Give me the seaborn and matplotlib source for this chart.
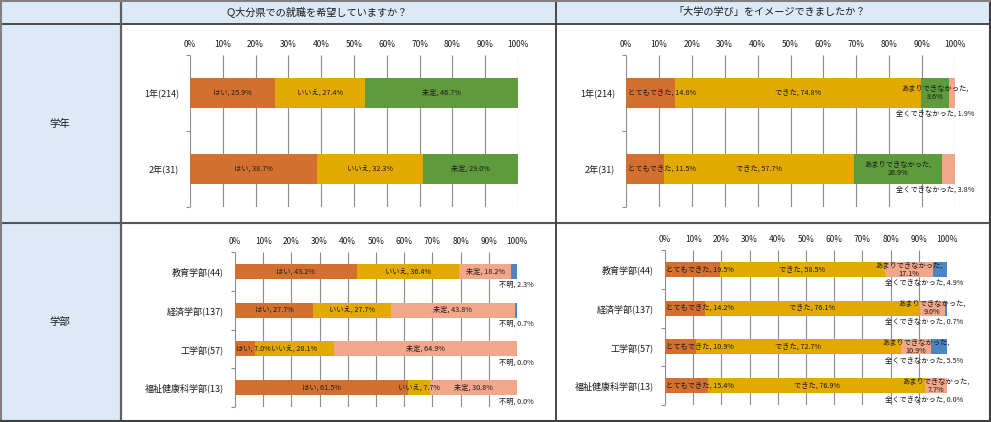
import numpy as np
import pandas as pd
import matplotlib
matplotlib.use('Agg')
import matplotlib.pyplot as plt
import seaborn as sns
from matplotlib.lines import Line2D
from matplotlib.patches import Rectangle

sns.set_theme(style='white')
plt.rcParams['font.family'] = ['Noto Sans CJK JP', 'DejaVu Sans']

# ---------------- data ----------------
header_left = 'Ｑ大分県での就職を希望していますか？'
header_right = '「大学の学び」をイメージできましたか？'
row_labels = ['学年', '学部']

grade_cats = ['1年(214)', '2年(31)']
faculty_cats = ['教育学部(44)', '経済学部(137)', '工学部(57)', '福祉健康科学部(13)']

q1_series = ['はい', 'いいえ', '未定', '不明']
q2_series = ['とてもできた', 'できた', 'あまりできなかった', '全くできなかった']

q1_grade_yes = [25.9, 38.7]
q1_grade_no = [27.4, 32.3]
q1_grade_undecided = [46.7, 29.0]

q1_fac_yes = [43.2, 27.7, 7.0, 61.5]
q1_fac_no = [36.4, 27.7, 28.1, 7.7]
q1_fac_undecided = [18.2, 43.8, 64.9, 30.8]
q1_fac_unknown = [2.3, 0.7, 0.0, 0.0]

q2_grade_very = [14.8, 11.5]
q2_grade_yes = [74.8, 57.7]
q2_grade_little = [8.6, 26.9]
q2_grade_none = [1.9, 3.8]

q2_fac_very = [19.5, 14.2, 10.9, 15.4]
q2_fac_yes = [58.5, 76.1, 72.7, 76.9]
q2_fac_little = [17.1, 9.0, 10.9, 7.7]
q2_fac_none = [4.9, 0.7, 5.5, 0.0]

x_ticks = [0, 10, 20, 30, 40, 50, 60, 70, 80, 90, 100]

# ---------------- style ----------------
ORANGE = '#D4702F'
GOLD = '#E2AA00'
GREEN = '#5F9A3C'
SALMON = '#F2A68A'
BLUE = '#4A86C5'
CELL_BLUE = '#DCE9F7'
GRID = '#8C8C8C'
BAR_W = 0.39
LABEL_FS = 5.2

W, H = 991, 422
fig = plt.figure(figsize=(W / 100, H / 100), dpi=100)
fig.patch.set_facecolor('white')


def fx(x):
    return x / W


def fy(y):
    return 1 - y / H


# table frame
fig.add_artist(Rectangle((0, fy(24)), 1, 24 / H, transform=fig.transFigure,
                         facecolor=CELL_BLUE, edgecolor='none', zorder=0))
fig.add_artist(Rectangle((0, 0), fx(121), 1, transform=fig.transFigure,
                         facecolor=CELL_BLUE, edgecolor='none', zorder=0))
for (x0, y0, x1, y1, c, lw) in [
    (0, 24, W, 24, '#3A3A3A', 1.3),
    (0, 223, W, 223, '#555555', 1.5),
    (121, 0, 121, H, '#606060', 1.6),
    (556, 0, 556, H, '#3A3A3A', 1.3),
    (1, 0, 1, H, '#808080', 1.5),
    (W - 1.5, 0, W - 1.5, H, '#404040', 1.5),
    (0, 1, W, 1, '#808080', 1.5),
    (0, H - 1.5, W, H - 1.5, '#404040', 1.5),
]:
    fig.add_artist(Line2D([fx(x0), fx(x1)], [fy(y0), fy(y1)],
                          transform=fig.transFigure, color=c, lw=lw, zorder=5))

fig.text(fx(317), fy(12), header_left, ha='center', va='center', fontsize=7.3, color='#1a1a1a')
fig.text(fx(770), fy(12), header_right, ha='center', va='center', fontsize=7.3, color='#1a1a1a')
fig.text(fx(60), fy(124), row_labels[0], ha='center', va='center', fontsize=7.5, color='#1a1a1a')
fig.text(fx(60), fy(322), row_labels[1], ha='center', va='center', fontsize=7.5, color='#1a1a1a')

clamp_texts = []


def draw_panel(box, cats, names, values, colors, below_last, twoline_idx):
    left, top, right, bottom = box
    ax = fig.add_axes([fx(left), fy(bottom), (right - left) / W, (bottom - top) / H])
    ax.set_facecolor('none')
    values = np.array(values, dtype=float)
    cum = np.cumsum(values, axis=0)
    n = len(cats)
    # vertical gridlines at the tick positions (behind bars)
    ax.vlines(x_ticks, -0.5, n - 0.5, color=GRID, lw=0.8, zorder=0.5)
    for k in reversed(range(len(names))):
        df = pd.DataFrame({'cat': cats, 'val': cum[k]})
        sns.barplot(data=df, x='val', y='cat', orient='h', color=colors[k],
                    saturation=1, width=BAR_W, ax=ax, linewidth=0, errorbar=None,
                    zorder=2)
    ax.set_xlim(0, 100)
    ax.set_ylim(n - 0.5, -0.5)
    ax.set_xlabel('')
    ax.set_ylabel('')
    ax.xaxis.tick_top()
    ax.set_xticks(x_ticks)
    ax.set_xticklabels([f'{t}%' for t in x_ticks], fontsize=6, color='#1a1a1a')
    ax.tick_params(axis='x', which='both', length=0, pad=4)
    ax.set_yticks(range(n))
    ax.set_yticklabels(cats, fontsize=6.5, color='#1a1a1a')
    ax.set_yticks(np.arange(-0.5, n, 1), minor=True)
    ax.tick_params(axis='y', which='major', length=0, pad=8)
    ax.tick_params(axis='y', which='minor', length=3, width=0.8, color=GRID, left=True)
    ax.grid(False)
    for s in ax.spines.values():
        s.set_visible(False)

    last = len(names) - 1
    for k, name in enumerate(names):
        for i in range(n):
            v = values[k][i]
            start = cum[k][i] - v
            mid = start + v / 2
            if below_last and k == last:
                ax.annotate(f'{name}, {v:.1f}%', xy=(105.8, i + BAR_W / 2),
                            xytext=(0, -1.5), textcoords='offset points',
                            ha='right', va='top', fontsize=LABEL_FS, color='#1a1a1a',
                            annotation_clip=False, zorder=4)
            elif twoline_idx is not None and k == twoline_idx:
                ax.text(mid, i, f'{name},\n{v:.1f}%', ha='center', va='center',
                        fontsize=LABEL_FS, linespacing=1.05, color='#1a1a1a',
                        clip_on=False, zorder=4)
            else:
                t = ax.text(mid, i, f'{name}, {v:.1f}%', ha='center', va='center',
                            fontsize=LABEL_FS, color='#1a1a1a', clip_on=False, zorder=4)
                if k == 0:
                    clamp_texts.append((ax, t))
    return ax


draw_panel((190, 55, 518, 207), grade_cats, q1_series[:3],
           [q1_grade_yes, q1_grade_no, q1_grade_undecided],
           [ORANGE, GOLD, GREEN], below_last=False, twoline_idx=None)
draw_panel((626, 55, 955, 207), grade_cats, q2_series,
           [q2_grade_very, q2_grade_yes, q2_grade_little, q2_grade_none],
           [ORANGE, GOLD, GREEN, SALMON], below_last=True, twoline_idx=2)
draw_panel((235, 252, 517, 407), faculty_cats, q1_series,
           [q1_fac_yes, q1_fac_no, q1_fac_undecided, q1_fac_unknown],
           [ORANGE, GOLD, SALMON, BLUE], below_last=True, twoline_idx=None)
draw_panel((665, 250, 947, 405), faculty_cats, q2_series,
           [q2_fac_very, q2_fac_yes, q2_fac_little, q2_fac_none],
           [ORANGE, GOLD, SALMON, BLUE], below_last=True, twoline_idx=2)

# keep first-segment labels from spilling left of the bar start
fig.canvas.draw()
r = fig.canvas.get_renderer()
for ax, t in clamp_texts:
    bb = t.get_window_extent(renderer=r)
    x0 = ax.transData.transform((0, 0))[0]
    if bb.x0 < x0 + 1.5:
        px_per_unit = (ax.transData.transform((100, 0))[0] - x0) / 100
        shift = (x0 + 1.5 - bb.x0) / px_per_unit
        xx, yy = t.get_position()
        t.set_position((xx + shift, yy))

fig.savefig('out.png', dpi=100, facecolor='white')
